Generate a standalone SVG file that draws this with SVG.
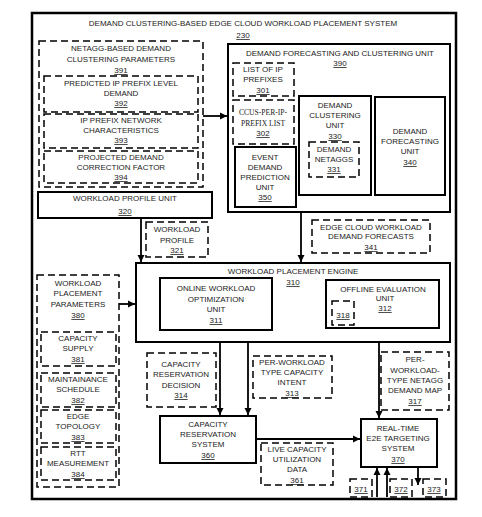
<svg xmlns="http://www.w3.org/2000/svg" width="482" height="517" viewBox="0 0 482 517">
<style>
.solid{fill:#fff;stroke:#000;stroke-width:2}
.frame{fill:#fff;stroke:#000;stroke-width:2.5}
.dash{fill:#fff;stroke:#000;stroke-width:1.5;stroke-dasharray:7 4}
text{font-family:"Liberation Sans",Arial,sans-serif;font-size:8px;text-anchor:middle;fill:#222}
.num{text-decoration:underline}
.serif{font-family:"Liberation Serif","Times New Roman",serif;font-size:7.6px}
.conn{fill:none;stroke:#000;stroke-width:1.8}
</style>
<defs>
<marker id="arr" viewBox="0 0 10 10" refX="10" refY="5" markerWidth="4" markerHeight="4" orient="auto" markerUnits="strokeWidth">
<path d="M0,0 L10,5 L0,10 z" fill="#000"/>
</marker>
</defs>
<rect width="482" height="517" fill="#fff"/>
<g id="system230">
<rect class="frame" x="32" y="13" width="424" height="486"/>
<text x="243" y="26">DEMAND CLUSTERING-BASED EDGE CLOUD WORKLOAD PLACEMENT SYSTEM</text>
<text x="243" y="38" class="num">230</text>
</g>
<g id="n391">
<rect class="dash" x="39" y="41" width="164" height="146"/>
<text x="121" y="51">NETAGG-BASED DEMAND</text>
<text x="121" y="62">CLUSTERING PARAMETERS</text>
<text x="121" y="73" class="num">391</text>
</g>
<g id="n392">
<rect class="dash" x="44" y="76" width="154" height="36"/>
<text x="121" y="86">PREDICTED IP PREFIX LEVEL</text>
<text x="121" y="96">DEMAND</text>
<text x="121" y="106" class="num">392</text>
</g>
<g id="n393">
<rect class="dash" x="44" y="114" width="154" height="34"/>
<text x="121" y="123">IP PREFIX NETWORK</text>
<text x="121" y="133">CHARACTERISTICS</text>
<text x="121" y="143" class="num">393</text>
</g>
<g id="n394">
<rect class="dash" x="44" y="151" width="154" height="32"/>
<text x="121" y="160">PROJECTED DEMAND</text>
<text x="121" y="170">CORRECTION FACTOR</text>
<text x="121" y="180" class="num">394</text>
</g>
<g id="n320">
<rect class="solid" x="38" y="192" width="174" height="26"/>
<text x="125" y="201">WORKLOAD PROFILE UNIT</text>
<text x="125" y="214" class="num">320</text>
</g>
<g id="n390">
<rect class="solid" x="228" y="44" width="222" height="168"/>
<text x="340" y="56">DEMAND FORECASTING AND CLUSTERING UNIT</text>
<text x="340" y="66" class="num">390</text>
</g>
<g id="n301">
<rect class="dash" x="233" y="63" width="61" height="33"/>
<text x="263" y="72">LIST OF IP</text>
<text x="263" y="82">PREFIXES</text>
<text x="263" y="93" class="num">301</text>
</g>
<g id="n302">
<rect class="dash" x="233" y="100" width="61" height="44"/>
<text x="263" y="115" class="serif">CCUS-PER-IP-</text>
<text x="263" y="126" class="serif">PREFIX LIST</text>
<text x="263" y="136" class="num">302</text>
</g>
<g id="n350">
<rect class="solid" x="235" y="147" width="61" height="60"/>
<text x="265" y="160">EVENT</text>
<text x="265" y="170">DEMAND</text>
<text x="265" y="180">PREDICTION</text>
<text x="265" y="190">UNIT</text>
<text x="265" y="200" class="num">350</text>
</g>
<g id="n330">
<rect class="solid" x="299" y="96" width="72" height="99"/>
<text x="335" y="108">DEMAND</text>
<text x="335" y="118">CLUSTERING</text>
<text x="335" y="128">UNIT</text>
<text x="335" y="139" class="num">330</text>
</g>
<g id="n331">
<rect class="dash" x="309" y="142" width="50" height="35"/>
<text x="334" y="152">DEMAND</text>
<text x="334" y="162">NETAGGS</text>
<text x="334" y="172" class="num">331</text>
</g>
<g id="n340">
<rect class="solid" x="375" y="97" width="70" height="98"/>
<text x="410" y="134">DEMAND</text>
<text x="410" y="144">FORECASTING</text>
<text x="410" y="154">UNIT</text>
<text x="410" y="165" class="num">340</text>
</g>
<g id="n321">
<rect class="dash" x="146" y="222" width="62" height="35"/>
<text x="177" y="232">WORKLOAD</text>
<text x="177" y="243">PROFILE</text>
<text x="177" y="253" class="num">321</text>
</g>
<g id="n341">
<rect class="dash" x="312" y="220" width="118" height="33"/>
<text x="371" y="230">EDGE CLOUD WORKLOAD</text>
<text x="371" y="239">DEMAND FORECASTS</text>
<text x="371" y="250" class="num">341</text>
</g>
<g id="n310">
<rect class="solid" x="136" y="263" width="314" height="79"/>
<text x="293" y="274">WORKLOAD PLACEMENT ENGINE</text>
<text x="293" y="285" class="num">310</text>
</g>
<g id="n311">
<rect class="solid" x="160" y="278" width="112" height="52"/>
<text x="216" y="291">ONLINE WORKLOAD</text>
<text x="216" y="302">OPTIMIZATION</text>
<text x="216" y="312">UNIT</text>
<text x="216" y="323" class="num">311</text>
</g>
<g id="n312">
<rect class="solid" x="326" y="280" width="113" height="48"/>
<text x="383" y="292">OFFLINE EVALUATION</text>
<text x="385" y="301">UNIT</text>
<text x="385" y="311" class="num">312</text>
</g>
<g id="n318">
<rect class="dash" x="332" y="301" width="22" height="24"/>
<text x="343" y="318" class="num">318</text>
</g>
<g id="n380">
<rect class="dash" x="37" y="275" width="82" height="212"/>
<text x="78" y="286">WORKLOAD</text>
<text x="78" y="296">PLACEMENT</text>
<text x="78" y="307">PARAMETERS</text>
<text x="78" y="318" class="num">380</text>
</g>
<g id="n381">
<rect class="dash" x="41" y="332" width="75" height="34"/>
<text x="78" y="341">CAPACITY</text>
<text x="78" y="351">SUPPLY</text>
<text x="78" y="362" class="num">381</text>
</g>
<g id="n382">
<rect class="dash" x="41" y="373" width="75" height="34"/>
<text x="78" y="382">MAINTAINANCE</text>
<text x="78" y="392">SCHEDULE</text>
<text x="78" y="403" class="num">382</text>
</g>
<g id="n383">
<rect class="dash" x="41" y="410" width="75" height="33"/>
<text x="78" y="419">EDGE</text>
<text x="78" y="429">TOPOLOGY</text>
<text x="78" y="440" class="num">383</text>
</g>
<g id="n384">
<rect class="dash" x="41" y="447" width="75" height="33"/>
<text x="78" y="456">RTT</text>
<text x="78" y="466">MEASUREMENT</text>
<text x="78" y="477" class="num">384</text>
</g>
<g id="n314">
<rect class="dash" x="147" y="353" width="69" height="54"/>
<text x="181" y="367">CAPACITY</text>
<text x="181" y="377">RESERVATION</text>
<text x="181" y="388">DECISION</text>
<text x="181" y="398" class="num">314</text>
</g>
<g id="n313">
<rect class="dash" x="253" y="356" width="79" height="42"/>
<text x="292" y="365">PER-WORKLOAD</text>
<text x="292" y="375">TYPE CAPACITY</text>
<text x="292" y="385">INTENT</text>
<text x="292" y="396" class="num">313</text>
</g>
<g id="n317">
<rect class="dash" x="381" y="352" width="68" height="58"/>
<text x="415" y="362">PER-</text>
<text x="415" y="373">WORKLOAD-</text>
<text x="415" y="383">TYPE NETAGG</text>
<text x="415" y="393">DEMAND MAP</text>
<text x="415" y="404" class="num">317</text>
</g>
<g id="n360">
<rect class="solid" x="160" y="416" width="96" height="47"/>
<text x="208" y="427">CAPACITY</text>
<text x="208" y="437">RESERVATION</text>
<text x="208" y="447">SYSTEM</text>
<text x="208" y="458" class="num">360</text>
</g>
<g id="n361">
<rect class="dash" x="261" y="443" width="72" height="42"/>
<text x="297" y="452">LIVE CAPACITY</text>
<text x="297" y="462">UTILIZATION</text>
<text x="297" y="472">DATA</text>
<text x="297" y="483" class="num">361</text>
</g>
<g id="n370">
<rect class="solid" x="361" y="419" width="76" height="48"/>
<text x="398" y="431">REAL-TIME</text>
<text x="398" y="441">E2E TARGETING</text>
<text x="398" y="451">SYSTEM</text>
<text x="398" y="462" class="num">370</text>
</g>
<g id="n371">
<rect class="dash" x="350" y="479" width="22" height="18"/>
<text x="361" y="492" class="num">371</text>
</g>
<g id="n372">
<rect class="dash" x="390" y="479" width="22" height="18"/>
<text x="401" y="492" class="num">372</text>
</g>
<g id="n373">
<rect class="dash" x="423" y="479" width="23" height="18"/>
<text x="434" y="492" class="num">373</text>
</g>
<g id="connectors">
<path class="conn" d="M203,116 H227" marker-end="url(#arr)"/>
<path class="conn" d="M141,218 V262" marker-end="url(#arr)"/>
<path class="conn" d="M301,212 V262" marker-end="url(#arr)"/>
<path class="conn" d="M119,304 H135" marker-end="url(#arr)"/>
<path class="conn" d="M220,342 V415" marker-end="url(#arr)"/>
<path class="conn" d="M248,342 V415" marker-end="url(#arr)"/>
<path class="conn" d="M379,342 V418" marker-end="url(#arr)"/>
<path class="conn" d="M256,439 H360" marker-end="url(#arr)"/>
<path class="conn" d="M377,497 V468" marker-end="url(#arr)"/>
<path class="conn" d="M387,497 V468" marker-end="url(#arr)"/>
<path class="conn" d="M418,467 V485" marker-end="url(#arr)"/>
</g>
</svg>
